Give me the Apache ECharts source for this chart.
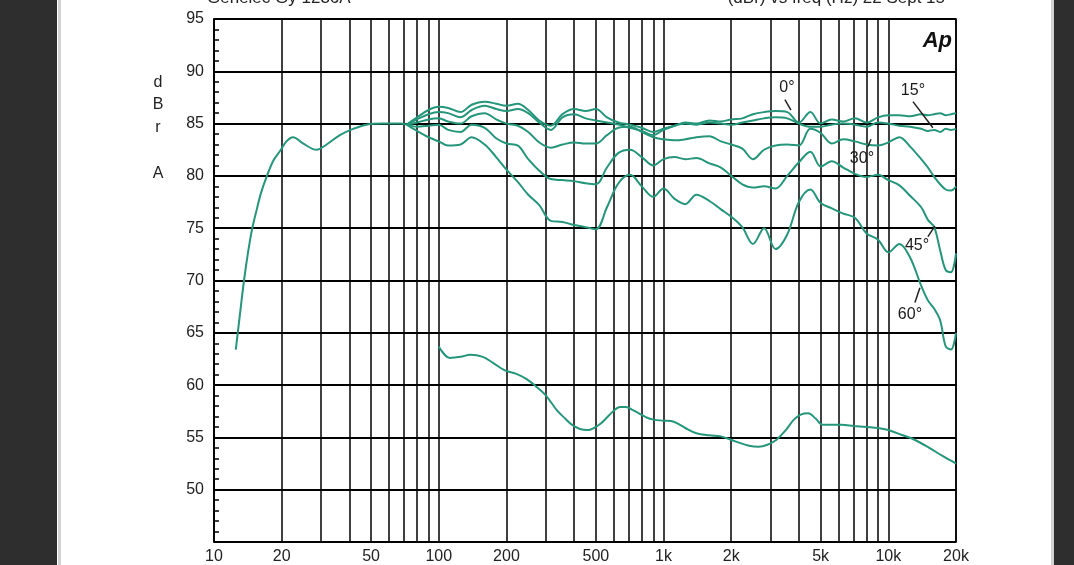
<!DOCTYPE html>
<html><head><meta charset="utf-8">
<script src="https://cdn.jsdelivr.net/npm/echarts@6/dist/echarts.min.js"></script>
<style>html,body{margin:0;padding:0;background:#fff}#c{width:1074px;height:565px}</style>
</head><body><div id="c"></div>
<script>
// Low-frequency part, common to all angles
const lfFreq = [12.5, 13.0, 13.6, 14.2, 14.8, 15.5, 16.2, 17.2, 18.4, 19.7, 21.0, 22.5, 24.9, 28.6, 31.7, 36.3, 41.6, 47.7, 56.6, 67.2, 72];
const lfDb   = [63.4, 66.5, 70.0, 72.8, 75.0, 76.8, 78.4, 80.0, 81.5, 82.4, 83.3, 83.7, 83.1, 82.5, 83.0, 83.9, 84.5, 84.9, 85.0, 85.0, 84.9];

// Angle curves share one frequency grid
const hfFreq = [72, 80, 90, 100, 110, 125, 140, 160, 180, 200, 225, 250, 280, 315, 355, 400, 450, 500, 560, 630, 710, 800, 900, 1000, 1120, 1250, 1400, 1600, 1800, 2000, 2240, 2500, 2800, 3150, 3550, 4000, 4500, 5000, 5600, 6300, 7100, 8000, 9000, 10000, 11200, 12500, 14000, 15000, 16000, 17000, 18000, 19000, 20000];
const db0  = [84.9, 85.6, 86.3, 86.6, 86.5, 86.1, 86.8, 87.1, 86.9, 86.7, 86.9, 86.3, 85.3, 84.8, 85.9, 86.4, 86.2, 86.4, 85.6, 85.1, 84.9, 84.6, 84.2, 84.5, 84.8, 85.1, 85.0, 85.3, 85.2, 85.4, 85.5, 85.9, 86.1, 86.2, 86.1, 85.1, 86.1, 85.0, 85.4, 85.2, 85.5, 85.1, 85.6, 85.8, 85.8, 85.7, 85.9, 85.8, 85.9, 86.0, 85.8, 85.9, 86.0];
const db15 = [84.9, 85.4, 85.9, 86.1, 86.0, 85.6, 86.3, 86.7, 86.4, 86.2, 86.4, 86.0, 85.1, 84.4, 85.6, 85.9, 85.5, 85.3, 85.1, 84.9, 84.6, 84.3, 83.9, 84.4, 84.8, 85.0, 84.9, 85.1, 85.0, 84.9, 85.1, 85.3, 85.5, 85.6, 85.5, 85.0, 84.7, 84.7, 84.9, 85.0, 84.9, 84.7, 85.1, 85.0, 84.8, 84.7, 84.5, 84.3, 84.4, 84.2, 84.5, 84.4, 84.5];
const db30 = [84.9, 85.1, 85.4, 85.5, 85.2, 85.0, 85.7, 86.0, 85.4, 85.0, 84.8, 84.2, 83.2, 82.7, 83.0, 83.2, 83.1, 83.1, 83.9, 84.6, 84.7, 84.2, 83.7, 83.5, 83.4, 83.5, 83.7, 83.8, 83.3, 83.0, 82.6, 81.6, 82.5, 82.9, 83.0, 82.9, 84.5, 84.1, 83.1, 83.5, 83.3, 83.0, 82.9, 83.2, 83.7, 82.8, 81.6, 80.8, 79.9, 79.2, 78.7, 78.6, 79.0];
const db45 = [84.9, 84.7, 84.8, 84.9, 84.4, 84.2, 84.9, 84.6, 83.6, 83.1, 82.9, 81.6, 80.5, 79.7, 79.6, 79.5, 79.3, 79.2, 80.8, 82.2, 82.5, 81.8, 81.0, 81.6, 81.8, 81.6, 81.7, 81.2, 80.8, 80.0, 79.2, 78.9, 79.0, 78.8, 80.0, 81.3, 82.3, 80.9, 81.4, 80.8, 80.2, 79.9, 80.1, 79.6, 79.1, 78.1, 77.0, 75.8, 75.1, 72.9, 71.0, 70.8, 72.6];
const db60 = [84.9, 84.3, 83.7, 83.3, 82.9, 83.0, 83.7, 83.0, 81.8, 80.6, 79.4, 78.2, 77.2, 75.7, 75.6, 75.3, 75.1, 74.9, 77.0, 79.3, 80.1, 79.0, 78.0, 78.8, 77.8, 77.3, 78.2, 77.6, 76.8, 76.1, 75.1, 73.5, 75.0, 73.0, 74.4, 77.5, 78.7, 77.4, 76.9, 76.4, 76.0, 74.5, 73.9, 72.7, 73.5, 72.2, 69.5, 68.1, 67.3, 66.2, 63.7, 63.4, 65.0];

// Lower curve
const btmFreq = [100, 112, 125, 138, 157, 175, 197, 220, 245, 270, 300, 335, 365, 392, 425, 460, 490, 524, 560, 597, 640, 680, 730, 777, 840, 904, 1000, 1110, 1250, 1400, 1600, 1800, 2100, 2400, 2650, 2900, 3170, 3500, 3800, 4100, 4400, 4750, 5100, 5600, 6200, 7000, 8000, 9000, 10000, 11600, 13000, 15200, 17500, 20000];
const btmDb   = [63.7, 62.6, 62.7, 62.9, 62.7, 62.1, 61.4, 61.1, 60.6, 59.9, 59.0, 57.6, 56.8, 56.2, 55.8, 55.7, 55.9, 56.3, 56.9, 57.5, 57.9, 57.9, 57.6, 57.3, 56.9, 56.7, 56.6, 56.5, 55.9, 55.4, 55.2, 55.1, 54.6, 54.2, 54.1, 54.3, 54.75, 55.7, 56.7, 57.2, 57.3, 56.8, 56.2, 56.2, 56.2, 56.1, 56.0, 55.9, 55.7, 55.2, 54.8, 54.0, 53.2, 52.5];

// Axes
const gridFreqs = [10, 20, 30, 40, 50, 60, 70, 80, 90, 100, 200, 300, 400, 500, 600, 700, 800, 900, 1000, 2000, 3000, 4000, 5000, 6000, 7000, 8000, 9000, 10000, 20000];
const tickFreqs = [10, 20, 50, 100, 200, 500, 1000, 2000, 5000, 10000, 20000];
const tickLabels = ['10', '20', '50', '100', '200', '500', '1k', '2k', '5k', '10k', '20k'];
const yMin = 45, yMax = 95, yStep = 5;

// Annotations (label position and pointer line, in data units)
const angleNames = ['0°', '15°', '30°', '45°', '60°'];
const anglePos = [[3540, 88.4], [12870, 88.2], [7630, 81.7], [13410, 73.3], [12480, 66.7]];
const anglePointers = [
  [[3467, 87.3], [3687, 86.3]],
  [[12870, 87.1], [15780, 84.6]],
  [[8110, 82.8], [8370, 83.5]],
  [[15000, 74.2], [16110, 75.2]],
  [[13130, 67.9], [13820, 69.3]]
];

const green = '#25967a';
const FONT = '"Liberation Sans", Arial, sans-serif';
const zip = (a, b) => a.map((v, i) => [v, b[i]]);
const curve = (name, fx, dy) => ({
  name, type: 'line', data: zip(fx, dy), showSymbol: false, smooth: 0.35,
  lineStyle: { color: green, width: 2 }, itemStyle: { color: green }, silent: true, z: 3
});

const chart = echarts.init(document.getElementById('c'));
chart.setOption({
  animation: false,
  backgroundColor: '#fff',
  grid: { left: 214, right: 118, top: 19, bottom: 23, show: true, borderColor: '#000', borderWidth: 1.5 },
  xAxis: {
    type: 'log', logBase: 10, min: 10, max: 20000,
    axisLine: { show: false },
    axisTick: { show: false, customValues: gridFreqs },
    splitLine: { show: true, lineStyle: { color: '#000', width: 1.5 } },
    axisLabel: {
      customValues: tickFreqs, margin: 7, fontSize: 16, color: '#222', fontFamily: FONT,
      formatter: v => {
        let best = 0;
        tickFreqs.forEach((t, i) => { if (Math.abs(Math.log10(t) - Math.log10(v)) < Math.abs(Math.log10(tickFreqs[best]) - Math.log10(v))) best = i; });
        return tickLabels[best];
      }
    }
  },
  yAxis: {
    type: 'value', min: yMin, max: yMax, interval: yStep,
    axisLine: { show: true, lineStyle: { color: '#000', width: 1.5 } },
    axisTick: { show: false, inside: true },
    minorTick: { show: true, splitNumber: 5, length: 5, lineStyle: { color: '#000', width: 1.5 } },
    splitLine: { show: true, lineStyle: { color: '#000', width: 2 } },
    axisLabel: { formatter: v => (v === yMin ? '' : String(v)), fontSize: 16, color: '#222', margin: 10, fontFamily: FONT }
  },
  series: [
    curve('LF', lfFreq, lfDb),
    curve('0°', hfFreq, db0),
    curve('15°', hfFreq, db15),
    curve('30°', hfFreq, db30),
    curve('45°', hfFreq, db45),
    curve('60°', hfFreq, db60),
    curve('lower', btmFreq, btmDb),
    {
      name: 'labels', type: 'scatter', symbolSize: 1, silent: true, z: 5,
      itemStyle: { opacity: 0 },
      data: anglePos.map((p, i) => ({ value: p, name: angleNames[i] })),
      label: { show: true, position: 'inside', formatter: p => p.name, fontSize: 16, color: '#1a1a1a', opacity: 1, fontFamily: FONT },
      markLine: {
        silent: true, symbol: ['none', 'none'], label: { show: false },
        lineStyle: { color: '#222', width: 1.5, type: 'solid', opacity: 1 },
        data: anglePointers.map(seg => [{ coord: seg[0] }, { coord: seg[1] }])
      }
    }
  ],
  graphic: [
    { type: 'rect', shape: { x: 0, y: 0, width: 57, height: 565 }, style: { fill: '#2e2e2e' } },
    { type: 'rect', shape: { x: 58, y: 0, width: 3, height: 565 }, style: { fill: '#d2d2d2' } },
    { type: 'rect', shape: { x: 1051, y: 0, width: 3, height: 565 }, style: { fill: '#d2d2d2' } },
    { type: 'rect', shape: { x: 1054, y: 0, width: 20, height: 565 }, style: { fill: '#2e2e2e' } },
    { type: 'text', x: 207, y: -2, style: { text: 'Genelec Gy 1236A', font: '17px ' + FONT, fill: '#222', align: 'left', verticalAlign: 'middle' } },
    { type: 'text', x: 945, y: -2, style: { text: '(dBr) vs freq (Hz) 22 Sept 15', font: '17px ' + FONT, fill: '#222', align: 'right', verticalAlign: 'middle' } },
    { type: 'text', x: 952, y: 41, style: { text: 'Ap', font: 'italic bold 22px ' + FONT, fill: '#111', align: 'right', verticalAlign: 'middle' } },
    { type: 'text', x: 158, y: 71, style: { text: 'd\nB\nr\n\nA', font: '16px ' + FONT, fill: '#222', align: 'center', verticalAlign: 'top', lineHeight: 22.7 } }
  ]
});
</script>
</body></html>
